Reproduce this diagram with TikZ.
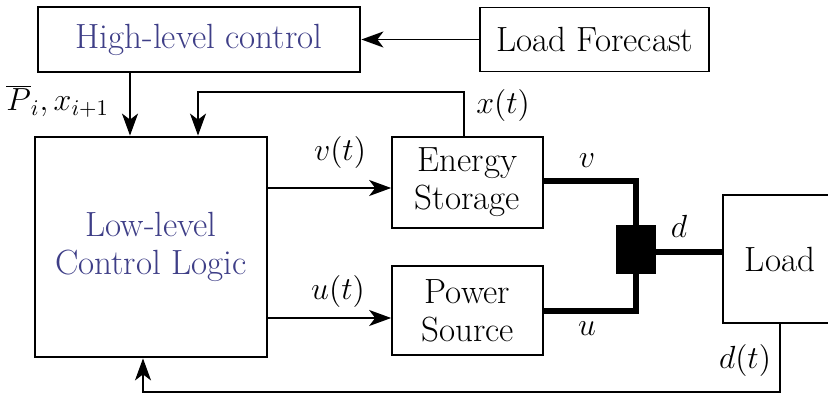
\documentclass[tikz,border=0pt]{standalone}
\usepackage{fix-cm}
\usetikzlibrary{arrows.meta}
\definecolor{hlblue}{RGB}{62,62,135}
\begin{document}
\begin{tikzpicture}[x=0.5pt,y=-0.5pt,
  box/.style={draw, line width=0.85pt, inner sep=0pt, align=center, font=\fontsize{17.5}{19}\selectfont},
  bigbox/.style={box, line width=1.4pt, text=hlblue},
  sig/.style={line width=0.8pt, -{Stealth[length=11pt,width=8pt,inset=3pt]}},
  pow/.style={line width=3pt},
  lab/.style={font=\fontsize{16}{19}\selectfont, inner sep=0pt}]
\useasboundingbox (0,0) rectangle (828,395);
\clip (0,0) rectangle (828,395);
% boxes
\node[bigbox, minimum width=161pt, minimum height=32.5pt] (hl) at (199,39.5) {High-level control};
\node[box, minimum width=114.5pt, minimum height=32pt] (lf) at (594.5,39.5) {Load Forecast};
\node[bigbox, minimum width=116pt, minimum height=110pt] (ll) at (151,247) {Low-level\\Control Logic};
\node[box, minimum width=75.5pt, minimum height=45.5pt] (es) at (467.5,182.5) {Energy\\Storage};
\node[box, minimum width=75.5pt, minimum height=44.5pt] (ps) at (467.5,310.5) {Power\\Source};
\node[draw, fill=black, inner sep=0pt, minimum width=19.5pt, minimum height=24pt] (bb) at (635.5,249) {};
\node[box, minimum width=57pt, minimum height=64pt] (load) at (780,259) {Load};
% helper coordinates
\coordinate (c1) at (130,0);
\coordinate (xt) at (464,0);
\coordinate (xc) at (464,92);
\coordinate (xl) at (198,92);
\coordinate (vy) at (0,188);
\coordinate (uy) at (0,318);
\coordinate (vy2) at (0,181);
\coordinate (uy2) at (0,311);
\coordinate (dy) at (0,252);
\coordinate (dl) at (780,392);
\coordinate (dll) at (143,392);
% connectors
\draw[sig] (lf) -- (hl);
\draw[sig] (c1 |- hl.south) -- (c1 |- ll.north);
\draw[sig] (xt |- es.north) -- (xc) -- (xl) -- (xl |- ll.north);
\draw[sig] (vy -| ll.east) -- (vy -| es.west);
\draw[sig] (uy -| ll.east) -- (uy -| ps.west);
\draw[pow] (vy2 -| es.east) -| (bb.north);
\draw[pow] (uy2 -| ps.east) -| (bb.south);
\draw[pow] (dy -| bb.east) -- (dy -| load.west);
\draw[sig] (dl |- load.south) -- (dl) -- (dll) -- (dll |- ll.south);
% labels
\node[lab, anchor=base west] (pl) at (6,111) {$\overline{P}_i, x_{i+1}$};
\node[lab] (xtl) at (503,106) {$x(t)$};
\node[lab] (vtl) at (340,153) {$v(t)$};
\node[lab] (utl) at (338,291) {$u(t)$};
\node[lab] (vl) at (587,161) {$v$};
\node[lab] (ul) at (587,329) {$u$};
\node[lab] (dlab) at (679,226) {$d$};
\node[lab] (dtl) at (745,360) {$d(t)$};
\end{tikzpicture}
\end{document}
